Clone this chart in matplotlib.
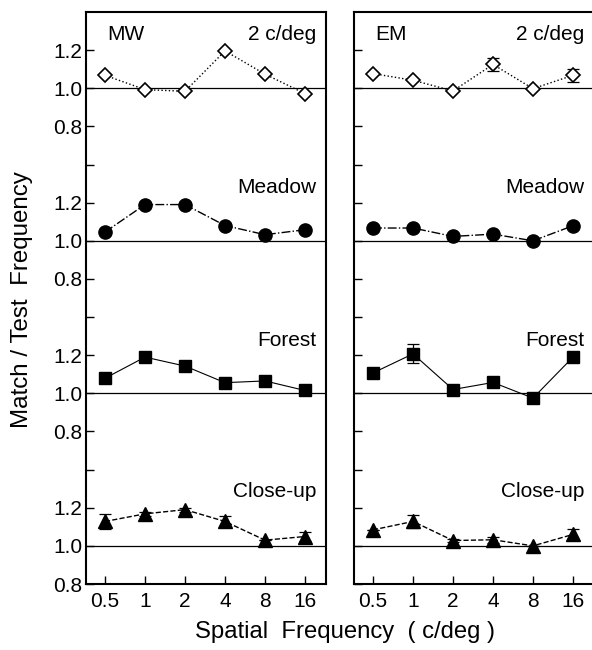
import numpy as np
import matplotlib
matplotlib.use("Agg")
import matplotlib.pyplot as plt

plt.rcParams['font.family'] = ['Liberation Sans', 'DejaVu Sans']

freqs = [0.5, 1, 2, 4, 8, 16]
freq_labels = ['0.5', '1', '2', '4', '8', '16']
conditions = ['2 c/deg', 'Meadow', 'Forest', 'Close-up']
offsets = [2.4, 1.6, 0.8, 0.0]

# MW observer
mw_2cdeg = [1.068, 0.993, 0.984, 1.196, 1.074, 0.972]
mw_meadow = [1.046, 1.190, 1.190, 1.080, 1.032, 1.058]
mw_forest = [1.079, 1.190, 1.143, 1.056, 1.065, 1.015]
mw_closeup = [1.128, 1.168, 1.190, 1.128, 1.030, 1.049]
mw_2cdeg_err = [0, 0, 0, 0, 0, 0]
mw_meadow_err = [0, 0, 0, 0, 0, 0]
mw_forest_err = [0, 0, 0, 0, 0, 0.02]
mw_closeup_err = [0.04, 0.01, 0.01, 0.03, 0, 0.025]

# EM observer
em_2cdeg = [1.077, 1.042, 0.986, 1.125, 0.998, 1.068]
em_meadow = [1.067, 1.067, 1.023, 1.035, 1.000, 1.079]
em_forest = [1.107, 1.207, 1.020, 1.057, 0.975, 1.190]
em_closeup = [1.084, 1.128, 1.028, 1.032, 1.000, 1.060]
em_2cdeg_err = [0, 0, 0, 0.035, 0, 0.035]
em_meadow_err = [0, 0, 0, 0, 0, 0.015]
em_forest_err = [0, 0.05, 0, 0, 0, 0]
em_closeup_err = [0, 0.035, 0.01, 0.015, 0, 0.03]

panels = [
    ('MW', [mw_2cdeg, mw_meadow, mw_forest, mw_closeup],
     [mw_2cdeg_err, mw_meadow_err, mw_forest_err, mw_closeup_err]),
    ('EM', [em_2cdeg, em_meadow, em_forest, em_closeup],
     [em_2cdeg_err, em_meadow_err, em_forest_err, em_closeup_err]),
]

styles = [
    dict(marker='D', ms=6.8, mfc='white', mec='black', mew=1.2, ls=':', lw=1.0),
    dict(marker='o', ms=9.5, mfc='black', mec='black', ls='-.', lw=1.0),
    dict(marker='s', ms=8.8, mfc='black', mec='black', ls='-', lw=0.8),
    dict(marker='^', ms=9.5, mfc='black', mec='black', ls='--', lw=1.0),
]

W, H = 592, 650
fig = plt.figure(figsize=(W / 100, H / 100), dpi=100)

ax_lefts = [86, 354]
ax_w = 240
ax_top, ax_bot = 12, 584

label_y = [0.951, 0.6836, 0.416, 0.152]
fs = 15

for pi, (name, series, errs) in enumerate(panels):
    ax = fig.add_axes([ax_lefts[pi] / W, (H - ax_bot) / H, ax_w / W, (ax_bot - ax_top) / H])
    ax.set_xscale('log', base=2)
    ax.set_xlim(0.5 * 2 ** -0.475, 16 * 2 ** 0.525)
    ax.set_ylim(0.8, 3.8)
    for k in range(4):
        off = offsets[k]
        ax.axhline(1.0 + off, color='black', lw=0.9, zorder=1)
        y = np.array(series[k]) + off
        ax.errorbar(freqs, y, yerr=errs[k], fmt='none', ecolor='black',
                    elinewidth=0.9, capsize=4, capthick=0.9, zorder=2)
        ax.plot(freqs, y, color='black', zorder=3, **styles[k])
        ax.text(0.958, label_y[k], conditions[k], transform=ax.transAxes,
                ha='right', va='baseline', fontsize=fs)
    ax.text(0.0875, label_y[0], name, transform=ax.transAxes,
            ha='left', va='baseline', fontsize=fs)
    ax.set_xticks(freqs)
    ax.set_xticklabels(freq_labels, fontsize=fs)
    ax.xaxis.set_minor_locator(matplotlib.ticker.NullLocator())
    yt = [0.8 + 0.2 * i for i in range(15)]
    ax.set_yticks(yt)
    if pi == 0:
        ax.set_yticklabels(['0.8', '1.0', '1.2', ''] * 3 + ['0.8', '1.0', '1.2'], fontsize=fs)
    else:
        ax.set_yticklabels([])
        ax.spines['right'].set_visible(False)
    ax.tick_params(axis='both', direction='in', length=6, width=1.0)
    ax.tick_params(axis='x', pad=6)
    ax.tick_params(axis='y', pad=2.5)
    for s in ax.spines.values():
        s.set_linewidth(1.5)

fig.text(22 / W, 1 - 300 / H, 'Match / Test  Frequency', rotation=90,
         ha='center', va='center', fontsize=17.4)
fig.text(345 / W, 1 - 632 / H, 'Spatial  Frequency  ( c/deg )',
         ha='center', va='center', fontsize=17.2)

fig.savefig('out.png', dpi=100)
